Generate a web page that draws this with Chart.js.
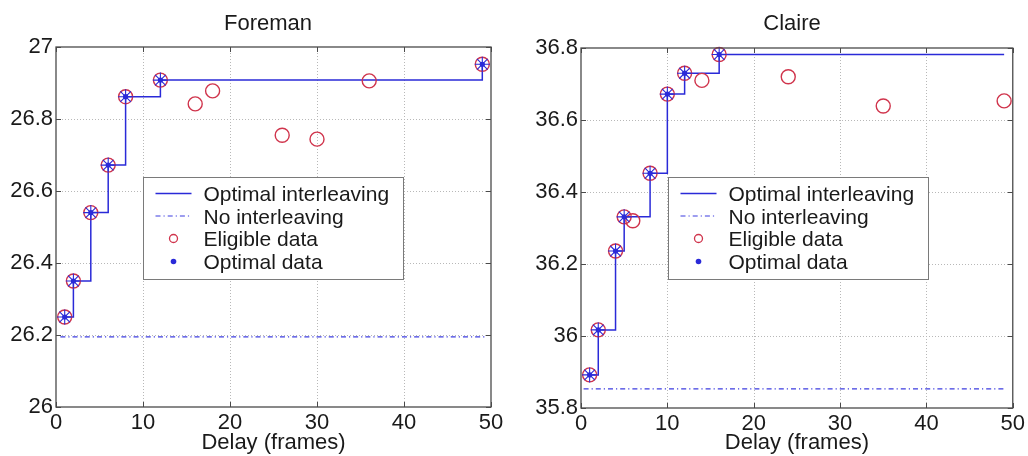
<!DOCTYPE html>
<html><head><meta charset="utf-8">
<script src="https://cdn.jsdelivr.net/npm/chart.js@4.4.1/dist/chart.umd.min.js"></script>
<style>
html,body{margin:0;padding:0;background:#fff;}
#wrap{position:relative;width:1028px;height:456px;overflow:hidden;}
.pane{position:absolute;top:0;width:514px;height:456px;}
</style></head><body>
<div id="wrap">
<div class="pane" style="left:0"><canvas id="c1" width="514" height="456"></canvas></div>
<div class="pane" style="left:514px"><canvas id="c2" width="514" height="456"></canvas></div>
</div>
<script>
// ---------------- data ----------------
const xTicks = [0, 10, 20, 30, 40, 50];
const xAxisTitle = 'Delay (frames)';
const legendLabels = ['Optimal interleaving', 'No interleaving', 'Eligible data', 'Optimal data'];

const foremanTitle = 'Foreman';
const foremanYTicks = [26, 26.2, 26.4, 26.6, 26.8, 27];
const foremanOptX = [1, 2, 4, 6, 8, 12, 49];
const foremanOptY = [26.25, 26.35, 26.54, 26.672, 26.862, 26.908, 26.952];
const foremanEligX = [1, 2, 4, 6, 8, 12, 16, 18, 26, 30, 36, 49];
const foremanEligY = [26.25, 26.35, 26.54, 26.672, 26.862, 26.908, 26.842, 26.878, 26.755, 26.744, 26.906, 26.952];
const foremanLineEndX = 49;
const foremanNoInterX = [0.5, 49.5];
const foremanNoInterY = 26.195;

const claireTitle = 'Claire';
const claireYTicks = [35.8, 36, 36.2, 36.4, 36.6, 36.8];
const claireOptX = [1, 2, 4, 5, 8, 10, 12, 16];
const claireOptY = [35.892, 36.017, 36.236, 36.331, 36.452, 36.672, 36.73, 36.782];
const claireEligX = [1, 2, 4, 5, 6, 8, 10, 12, 14, 16, 24, 35, 49];
const claireEligY = [35.892, 36.017, 36.236, 36.331, 36.32, 36.452, 36.672, 36.73, 36.71, 36.782, 36.72, 36.639, 36.653];
const claireLineEndX = 49;
const claireNoInterX = [0.3, 49.2];
const claireNoInterY = 35.853;

// ---------------- style ----------------
const FONT = "'Liberation Sans', Arial, Helvetica, sans-serif";
const BLUE = '#2a2ad8';
const BLUE_LIGHT = '#3c3ce0';
const RED = '#d0344c';
const FRAME = '#4a4a4a';
const TEXT = '#1a1a1a';
const DASHDOT = [5, 3, 1.2, 3];

const pts = (xs, ys) => xs.map((x, i) => ({x: x, y: ys[i]}));

const matlabAxes = {
  id: 'matlabAxes',
  beforeDatasetsDraw(chart) {
    const {ctx, chartArea: a, scales: {x, y}} = chart;
    ctx.save();
    ctx.strokeStyle = '#b8b8b8';
    ctx.lineWidth = 1;
    ctx.setLineDash([1, 2]);
    x.ticks.forEach(t => {
      const p = Math.round(x.getPixelForValue(t.value)) + 0.5;
      if (p <= a.left + 2 || p >= a.right - 2) return;
      ctx.beginPath(); ctx.moveTo(p, a.top); ctx.lineTo(p, a.bottom); ctx.stroke();
    });
    y.ticks.forEach(t => {
      const p = Math.round(y.getPixelForValue(t.value)) + 0.5;
      if (p <= a.top + 2 || p >= a.bottom - 2) return;
      ctx.beginPath(); ctx.moveTo(a.left, p); ctx.lineTo(a.right, p); ctx.stroke();
    });
    ctx.restore();
  },
  afterDatasetsDraw(chart) {
    const {ctx, chartArea: a, scales: {x, y}} = chart;
    ctx.save();
    ctx.strokeStyle = FRAME;
    ctx.lineWidth = 1.3;
    ctx.setLineDash([]);
    ctx.strokeRect(a.left, a.top, a.right - a.left, a.bottom - a.top);
    const L = 5;
    ctx.lineWidth = 1;
    x.ticks.forEach(t => {
      const p = Math.round(x.getPixelForValue(t.value)) + 0.5;
      ctx.beginPath();
      ctx.moveTo(p, a.bottom); ctx.lineTo(p, a.bottom - L);
      ctx.moveTo(p, a.top); ctx.lineTo(p, a.top + L);
      ctx.stroke();
    });
    y.ticks.forEach(t => {
      const p = Math.round(y.getPixelForValue(t.value)) + 0.5;
      ctx.beginPath();
      ctx.moveTo(a.left, p); ctx.lineTo(a.left + L, p);
      ctx.moveTo(a.right, p); ctx.lineTo(a.right - L, p);
      ctx.stroke();
    });
    ctx.restore();
  },
  afterDraw(chart, args, opts) {
    const {ctx, chartArea: a} = chart;
    ctx.save();
    // panel title
    ctx.fillStyle = TEXT;
    ctx.font = '22px ' + FONT;
    ctx.textAlign = 'center';
    ctx.textBaseline = 'alphabetic';
    ctx.fillText(opts.title, opts.titleX, opts.titleY);
    // legend box
    const bx = Math.round(a.left + opts.legendDX) + 0.5;
    const by = Math.round(a.top + opts.legendDY) + 0.5;
    const bw = 260, bh = 102;
    ctx.fillStyle = '#ffffff';
    ctx.fillRect(bx, by, bw, bh);
    ctx.strokeStyle = '#7a7a7a';
    ctx.lineWidth = 1;
    ctx.strokeRect(bx, by, bw, bh);
    const rows = [16, 38.5, 61, 84];
    const sx0 = bx + 12, sx1 = bx + 48, sxc = bx + 30;
    ctx.font = '21px ' + FONT;
    ctx.textAlign = 'left';
    legendLabels.forEach((lab, i) => {
      const cy = by + rows[i];
      ctx.save();
      if (i === 0) {
        ctx.strokeStyle = BLUE; ctx.lineWidth = 1.5;
        ctx.beginPath(); ctx.moveTo(sx0, cy); ctx.lineTo(sx1, cy); ctx.stroke();
      } else if (i === 1) {
        ctx.strokeStyle = BLUE_LIGHT; ctx.lineWidth = 1.2; ctx.setLineDash(DASHDOT);
        ctx.beginPath(); ctx.moveTo(sx0, cy); ctx.lineTo(sx1, cy); ctx.stroke();
      } else if (i === 2) {
        ctx.strokeStyle = RED; ctx.lineWidth = 1.3;
        ctx.beginPath(); ctx.arc(sxc, cy, 4, 0, Math.PI * 2); ctx.stroke();
      } else {
        ctx.fillStyle = BLUE;
        ctx.beginPath(); ctx.arc(sxc, cy, 2.8, 0, Math.PI * 2); ctx.fill();
      }
      ctx.restore();
      ctx.fillStyle = TEXT;
      ctx.fillText(lab, bx + 60, cy + 7.5);
    });
    ctx.restore();
  }
};

function makeChart(id, cfg) {
  const linePts = pts(cfg.optX, cfg.optY);
  const last = linePts[linePts.length - 1];
  if (cfg.lineEndX > last.x) linePts.push({x: cfg.lineEndX, y: last.y});
  const noInter = cfg.noInterX.map(x => ({x: x, y: cfg.noInterY}));
  return new Chart(document.getElementById(id), {
    type: 'scatter',
    data: {
      datasets: [
        {label: legendLabels[3], data: pts(cfg.optX, cfg.optY), pointStyle: 'circle', pointRadius: 2.6,
          pointBackgroundColor: BLUE, pointBorderColor: BLUE, pointBorderWidth: 0, showLine: false, order: 1},
        {label: legendLabels[3] + ' *', data: pts(cfg.optX, cfg.optY), pointStyle: 'star', pointRadius: 7.5,
          pointBorderColor: BLUE, pointBackgroundColor: BLUE, pointBorderWidth: 1.1, showLine: false, order: 2},
        {label: legendLabels[2], data: pts(cfg.eligX, cfg.eligY), pointStyle: 'circle', pointRadius: 7,
          pointBorderColor: RED, pointBackgroundColor: 'rgba(0,0,0,0)', pointBorderWidth: 1.4, showLine: false, order: 3},
        {label: legendLabels[1], data: noInter, showLine: true, borderColor: BLUE_LIGHT, borderWidth: 1.2,
          borderDash: DASHDOT, pointRadius: 0, order: 4},
        {label: legendLabels[0], data: linePts, showLine: true, stepped: true, borderColor: BLUE, borderWidth: 1.5,
          pointRadius: 0, order: 5}
      ]
    },
    options: {
      responsive: false,
      animation: false,
      devicePixelRatio: 1,
      clip: false,
      layout: {padding: {top: cfg.padTop, right: cfg.padRight, left: 0, bottom: 0}},
      plugins: {
        legend: {display: false},
        tooltip: {enabled: false},
        title: {display: false},
        matlabAxes: {title: cfg.title, titleX: cfg.titleX, titleY: 30, legendDX: cfg.legendDX, legendDY: cfg.legendDY}
      },
      scales: {
        x: {
          type: 'linear', min: 0, max: 50,
          afterBuildTicks: s => { s.ticks = xTicks.map(v => ({value: v})); },
          afterFit: s => { s.height = cfg.xAxisH; },
          grid: {display: false, drawTicks: false},
          border: {display: false},
          ticks: {color: TEXT, padding: 3, maxRotation: 0, font: {family: FONT, size: 22, lineHeight: 1.2}},
          title: {display: true, text: xAxisTitle, color: TEXT, padding: {top: 0, bottom: 0},
            font: {family: FONT, size: 22, lineHeight: 1.2}}
        },
        y: {
          type: 'linear', min: cfg.yTicks[0], max: cfg.yTicks[cfg.yTicks.length - 1],
          afterBuildTicks: s => { s.ticks = cfg.yTicks.map(v => ({value: v})); },
          afterFit: s => { s.width = cfg.yAxisW; },
          grid: {display: false, drawTicks: false},
          border: {display: false},
          ticks: {color: TEXT, padding: 3, font: {family: FONT, size: 22, lineHeight: 1.2},
            callback: v => String(+(+v).toFixed(1))}
        }
      }
    },
    plugins: [matlabAxes]
  });
}

makeChart('c1', {
  title: foremanTitle, titleX: 268, yTicks: foremanYTicks,
  optX: foremanOptX, optY: foremanOptY, eligX: foremanEligX, eligY: foremanEligY,
  lineEndX: foremanLineEndX, noInterX: foremanNoInterX, noInterY: foremanNoInterY,
  padTop: 47, padRight: 23, yAxisW: 56, xAxisH: 49, legendDX: 87, legendDY: 130
});
makeChart('c2', {
  title: claireTitle, titleX: 278, yTicks: claireYTicks,
  optX: claireOptX, optY: claireOptY, eligX: claireEligX, eligY: claireEligY,
  lineEndX: claireLineEndX, noInterX: claireNoInterX, noInterY: claireNoInterY,
  padTop: 48, padRight: 12, yAxisW: 67, xAxisH: 48, legendDX: 87, legendDY: 129
});
</script>
</body></html>
